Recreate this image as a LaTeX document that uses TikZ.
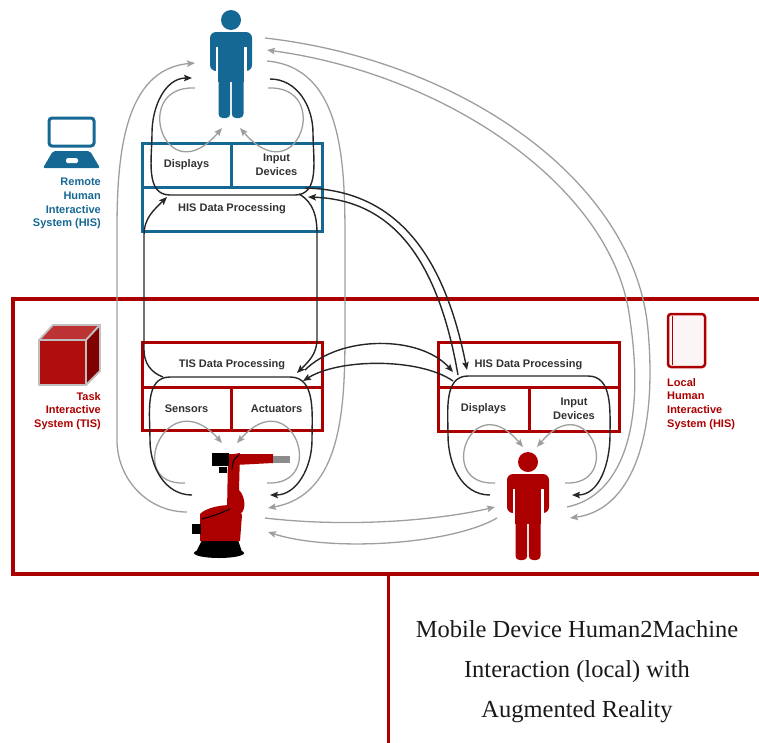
\documentclass[tikz,border=0pt]{standalone}
\usepackage{fontspec}
\setmainfont{Liberation Sans}
\newfontfamily\titlefont{Liberation Serif}
\usetikzlibrary{arrows.meta, positioning}

\definecolor{hisblue}{RGB}{22,104,148}
\definecolor{tisred}{RGB}{172,0,0}
\definecolor{textgray}{RGB}{50,50,50}
\definecolor{linegray}{RGB}{158,158,158}

\tikzset{
  cell/.style={rectangle, draw, line width=3pt, inner sep=0pt, outer sep=0pt,
               font=\bfseries\fontsize{11}{13.5}\selectfont, text=textgray, align=center},
  sidelabel/.style={font=\bfseries\fontsize{11}{13.7}\selectfont, inner sep=0pt},
  dataflow/.style={draw=black!85, line width=1.4pt},
  senseflow/.style={draw=linegray, line width=1.3pt},
  % person icon, origin in the middle of the body
  person/.pic={
    \fill[pic actions] (0,50) circle (10);
    \fill[pic actions, rounded corners=6pt] (-21,-1) rectangle (21,38);
    \fill[white] (-15.5,-3) rectangle (-13,23);
    \fill[white] (13,-3) rectangle (15.5,23);
    \fill[pic actions] (-13,-12) rectangle (13,10);
    \fill[pic actions, rounded corners=4pt] (-12.5,-48) rectangle (-0.8,-8);
    \fill[pic actions, rounded corners=4pt] (0.8,-48) rectangle (12.5,-8);
  },
}

\begin{document}
\begin{tikzpicture}[x=1pt, y=1pt, >={Stealth[length=8pt,width=6.5pt,inset=1.5pt]}]
\useasboundingbox (0,0) rectangle (759,-742);

% local site frame and caption panel
\draw[tisred, line width=3.5pt] (13,-299) rectangle (790,-574);
\draw[tisred, line width=3pt] (388,-574) -- (388,-760);
\node[font=\titlefont\fontsize{24.5}{40}\selectfont, text=black!90, align=center] (caption) at (577,-672)
  {Mobile Device Human2Machine\\Interaction (local) with\\Augmented Reality};

% remote HIS
\node[cell, draw=hisblue, minimum width=180pt, minimum height=44pt] (rproc) at (232,-209) {HIS Data Processing};
\node[cell, draw=hisblue, minimum width=89pt, minimum height=44pt, anchor=south west] (rdisp) at (rproc.north west) {Displays};
\node[cell, draw=hisblue, minimum width=91pt, minimum height=44pt, anchor=south east] (rinput) at (rproc.north east) {Input\\Devices};

% TIS
\node[cell, draw=tisred, minimum width=180pt, minimum height=45pt] (tproc) at (232,-364.5) {TIS Data Processing};
\node[cell, draw=tisred, minimum width=89pt, minimum height=43pt, anchor=north west] (tsens) at (tproc.south west) {Sensors};
\node[cell, draw=tisred, minimum width=91pt, minimum height=43pt, anchor=north east] (tact) at (tproc.south east) {Actuators};

% local HIS
\node[cell, draw=tisred, minimum width=181pt, minimum height=45pt] (lproc) at (528.5,-364.5) {HIS Data Processing};
\node[cell, draw=tisred, minimum width=91pt, minimum height=44pt, anchor=north west] (ldisp) at (lproc.south west) {Displays};
\node[cell, draw=tisred, minimum width=90pt, minimum height=44pt, anchor=north east] (linput) at (lproc.south east) {Input\\Devices};

% side labels
\node[sidelabel, text=hisblue, anchor=north east, align=right] (rlabel) at (101,-178) {Remote\\Human\\Interactive\\System (HIS)};
\node[sidelabel, text=tisred, anchor=north east, align=right] (tlabel) at (101,-392) {Task\\Interactive\\System (TIS)};
\node[sidelabel, text=tisred, anchor=north west, align=left] (llabel) at (667,-378) {Local\\Human\\Interactive\\System (HIS)};

% laptop
\draw[hisblue, line width=3pt, rounded corners=3pt] (49,-118) rectangle (94,-146);
\fill[hisblue, rounded corners=2pt] (53,-151) -- (90,-151) -- (100,-168) -- (43,-168) -- cycle;
\fill[white, rounded corners=1.5pt] (66,-158) rectangle (78,-163);

% cube
\begin{scope}[draw=black!25, line width=1.8pt, line join=round]
  \filldraw[fill=tisred!80!white] (39,-340) -- (53,-325) -- (100,-325) -- (86,-340) -- cycle;
  \filldraw[fill=tisred!75!black] (86,-340) -- (100,-325) -- (100,-371) -- (86,-385) -- cycle;
  \filldraw[fill=tisred!95!white] (39,-340) rectangle (86,-385);
\end{scope}

% tablet
\draw[tisred, line width=2.5pt, rounded corners=3pt, fill=tisred!4] (668,-314) rectangle (705,-367);
\draw[tisred, line width=1.5pt] (672.5,-316) -- (672.5,-365);

% humans and robot
\coordinate (rh) at (231,-70);
\coordinate (lh) at (528,-512);
\coordinate (rb) at (228,-500);
\pic[fill=hisblue] at (rh) {person};
\pic[fill=tisred] at (lh) {person};

\begin{scope}[shift={(rb)}]
  \fill[black] (-26,-40) -- (10,-40) -- (14,-52) -- (-32,-52) -- cycle;
  \fill[black] (-9,-53) ellipse (25 and 5);
  \fill[tisred] (-28,-41) -- (-28,-14) .. controls (-23,-8) and (-3,-3) .. (9,-6) -- (14,-15) -- (12,-41) -- cycle;
  \fill[black] (-36,-24) rectangle (-27,-34);
  \fill[tisred] (0,45) -- (12,47) -- (11,10) .. controls (17,4) and (19,-10) .. (12,-14) -- (-1,-12) -- cycle;
  \fill[tisred] (0,46) -- (45,46) -- (45,37) -- (7,35) -- cycle;
  \fill[black] (-16,47) rectangle (1,34);
  \fill[black] (-9,33) rectangle (-1,27);
  \fill[black!45] (45,44) rectangle (62,37);
  \draw[black, line width=1pt] (4,30) .. controls (5,40) .. (11,45);
  \draw[black, line width=1pt] (-26,-19) .. controls (-12,-15) .. (2,-9);
\end{scope}

% remote human loops
\draw[senseflow, ->] ([shift={(-36,-18)}]rh) .. controls +(-65,3) and +(-57,-67) .. ([shift={(-9,-58)}]rh);
\draw[senseflow, ->] ([shift={(37,-18)}]rh) .. controls +(65,3) and +(58,-67) .. ([shift={(9,-58)}]rh);
\draw[dataflow, ->] ([shift={(39,-9)}]rh) to[out=0,in=90] ++(43,-54) to[out=-90,in=0] ++(-18,-62)
  -- ++(-125,0) to[out=180,in=-90] ++(-18,62) to[out=90,in=180] ([shift={(-39,-8)}]rh);

% robot loops
\draw[senseflow, ->] ([shift={(-43,17)}]rb) .. controls +(-62,-3) and +(-55,62) .. ([shift={(-6,57)}]rb);
\draw[senseflow, ->] ([shift={(39,17)}]rb) .. controls +(62,-3) and +(55,62) .. ([shift={(9,57)}]rb);
\draw[dataflow, ->] ([shift={(-36,5)}]rb) to[out=180,in=-90] ++(-42,55) to[out=90,in=180] ++(20,63)
  -- ++(120,0) to[out=0,in=90] ++(22,-63) to[out=-90,in=0] ([shift={(42,5)}]rb);

% local human loops
\draw[senseflow, ->] ([shift={(-33,29)}]lh) .. controls +(-60,-3) and +(-52,62) .. ([shift={(-5,65)}]lh);
\draw[senseflow, ->] ([shift={(37,29)}]lh) .. controls +(60,-3) and +(52,62) .. ([shift={(9,65)}]lh);
\draw[dataflow, ->] ([shift={(-38,17)}]lh) to[out=180,in=-90] ++(-42,60) to[out=90,in=180] ++(20,59)
  -- ++(120,0) to[out=0,in=90] ++(22,-59) to[out=-90,in=0] ([shift={(44,17)}]lh);

% remote human <-> robot
\draw[senseflow, ->] ([shift={(-41,-12)}]rb) to[out=180,in=-90] ++(-70,72) -- ++(0,210)
  to[out=90,in=185] ([shift={(-36,7)}]rh);
\draw[senseflow, ->] ([shift={(36,9)}]rh) to[out=-5,in=90] ++(78,-179) -- ++(0,-90)
  to[out=-90,in=10] ([shift={(40,-8)}]rb);

% robot <-> local human
\draw[senseflow, ->] ([shift={(37,-18)}]rb) .. controls +(85,-10) and +(-55,-13) .. ([shift={(-33,5)}]lh);
\draw[senseflow, ->] ([shift={(-31,-6)}]lh) .. controls +(-47,-27) and +(62,-20) .. ([shift={(40,-32)}]rb);

% remote human <-> local human
\draw[senseflow, ->] ([shift={(34,32)}]rh) .. controls +(195,-22) and +(-13,150) .. ++(383,-292)
  .. controls +(10,-110) and +(60,8) .. ([shift={(42,-6)}]lh);
\draw[senseflow, ->] ([shift={(39,5)}]lh) .. controls +(58,12) and +(15,-100) .. ++(63,187)
  .. controls +(-15,130) and +(183,-25) .. ([shift={(36,20)}]rh);

% data processing links
\draw[dataflow, ->] ([shift={(-69,-12.5)}]tproc.center) to[out=160,in=-90] ++(-19,27) -- ++(0,115)
  to[out=90,in=-135] ([shift={(-65,12)}]rproc.center);
\draw[dataflow, ->] ([shift={(67,15)}]rproc.center) to[out=-30,in=90] ++(18,-40) -- ++(0,-105)
  to[out=-90,in=45] ([shift={(65,-8.5)}]tproc.center);
\draw[dataflow, ->] ([shift={(73,21)}]rproc.center) .. controls +(95,-2) and +(-22,110) .. ([shift={(-61.5,-5.5)}]lproc.center);
\draw[dataflow, ->] ([shift={(-70.5,-10.5)}]lproc.center) .. controls +(-20,115) and +(85,-3) .. ([shift={(76,12)}]rproc.center);
\draw[dataflow, ->] ([shift={(73,-5.5)}]tproc.center) .. controls +(35,35) and +(-33,37) .. ([shift={(-75.5,-7.5)}]lproc.center);
\draw[dataflow, ->] ([shift={(-75.5,-16.5)}]lproc.center) .. controls +(-33,23) and +(37,23) .. ([shift={(71,-16.5)}]tproc.center);

\end{tikzpicture}
\end{document}
